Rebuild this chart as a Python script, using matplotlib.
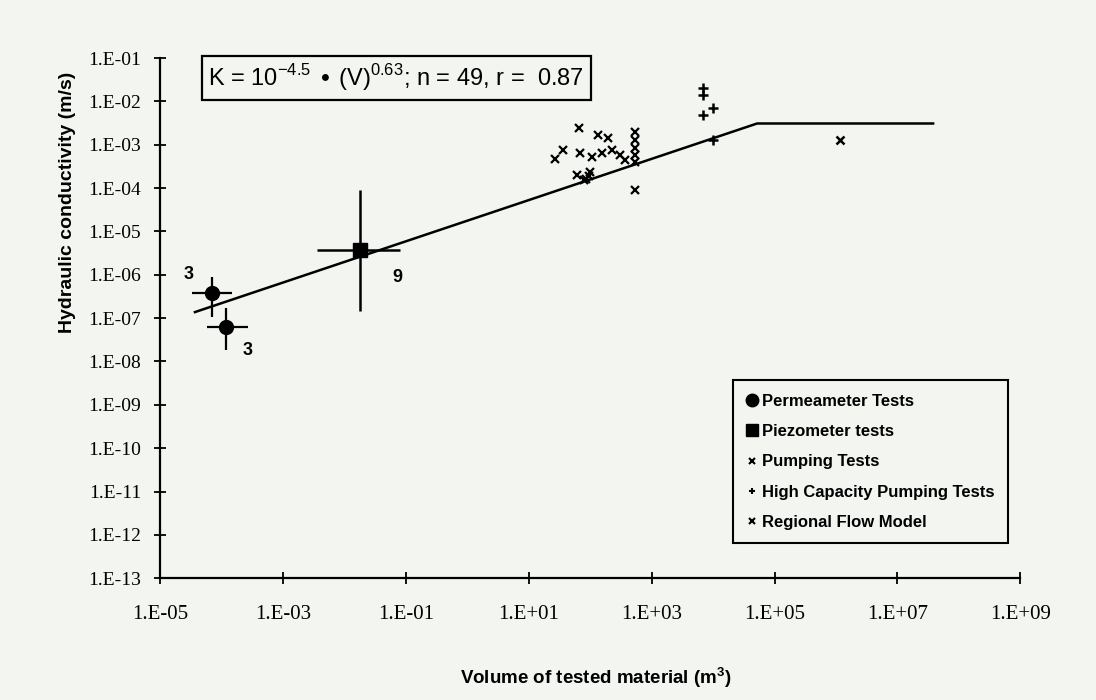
import matplotlib
matplotlib.use('Agg')
import matplotlib.pyplot as plt
from matplotlib.lines import Line2D
from matplotlib.ticker import FixedLocator, FuncFormatter, NullLocator
import numpy as np

# Permeameter tests (two groups of 3 samples): mean K and range
perm_v = [7.0e-5, 1.2e-4]
perm_k = [3.8e-7, 6.2e-8]
perm_v_lo = [3.3e-5, 5.9e-5]
perm_v_hi = [1.5e-4, 2.7e-4]
perm_k_lo = [1.05e-7, 1.8e-8]
perm_k_hi = [8.9e-7, 1.7e-7]
perm_n = ['3', '3']

# Piezometer tests (9 tests)
piezo_v = [1.8e-2]
piezo_k = [3.7e-6]
piezo_v_lo = [3.6e-3]
piezo_v_hi = [8.1e-2]
piezo_k_lo = [1.5e-7]
piezo_k_hi = [8.9e-5]
piezo_n = ['9']

# Pumping tests
pump_v = [66, 135, 195, 36, 27, 69, 107, 158, 229, 309, 372, 62, 100, 78, 85, 95,
          537, 537, 537, 537, 537, 537]
pump_k = [2.4e-3, 1.66e-3, 1.41e-3, 7.6e-4, 4.7e-4, 6.5e-4, 5.2e-4, 6.5e-4, 7.6e-4,
          5.8e-4, 4.5e-4, 2.0e-4, 2.3e-4, 1.5e-4, 1.6e-4, 1.9e-4,
          1.95e-3, 1.29e-3, 8.3e-4, 5.8e-4, 4.0e-4, 8.9e-5]

# High capacity pumping tests
hcap_v = [6900, 6900, 6900, 9800, 9800]
hcap_k = [2.0e-2, 1.4e-2, 4.8e-3, 7.1e-3, 1.29e-3]

# Regional flow model
reg_v = [1.17e6]
reg_k = [1.29e-3]

# Scale-effect relation (rising limb then plateau)
fit_v = [3.7e-5, 5.2e4, 3.8e7]
fit_k = [1.38e-7, 3.1e-3, 3.1e-3]

xticks = [1e-5, 1e-3, 1e-1, 1e1, 1e3, 1e5, 1e7, 1e9]
yticks = [10.0 ** e for e in range(-13, 0)]

bg = '#f3f5f1'
serif = 'Liberation Serif'
sans = 'Liberation Sans'

fig = plt.figure(figsize=(10.96, 7.0), dpi=100, facecolor=bg)
ax = fig.add_axes([0.146, 0.174, 0.785, 0.743], facecolor=bg)
ax.set_xscale('log')
ax.set_yscale('log')
ax.set_xlim(1e-5, 1e9)
ax.set_ylim(1e-13, 1e-1)

# fitted line
ax.plot(fit_v, fit_k, color='black', lw=1.8, zorder=2)

# permeameter tests with ranges
ax.errorbar(perm_v, perm_k,
            xerr=[np.subtract(perm_v, perm_v_lo), np.subtract(perm_v_hi, perm_v)],
            yerr=[np.subtract(perm_k, perm_k_lo), np.subtract(perm_k_hi, perm_k)],
            fmt='o', color='black', ms=10, elinewidth=1.6, capsize=0, zorder=3)

# piezometer tests with ranges
ax.errorbar(piezo_v, piezo_k,
            xerr=[np.subtract(piezo_v, piezo_v_lo), np.subtract(piezo_v_hi, piezo_v)],
            yerr=[np.subtract(piezo_k, piezo_k_lo), np.subtract(piezo_k_hi, piezo_k)],
            fmt='s', color='black', ms=10, elinewidth=1.8, capsize=0, zorder=3)

ax.plot(pump_v, pump_k, 'x', color='black', ms=6, mew=1.6, zorder=3)
ax.plot(hcap_v, hcap_k, '+', color='black', ms=7, mew=1.8, zorder=3)
ax.plot(reg_v, reg_k, 'x', color='black', ms=6, mew=1.8, zorder=3)

# sample counts
ax.annotate(perm_n[0], (perm_v_lo[0], perm_k_hi[0]), xytext=(-2, -4), textcoords='offset points',
            ha='center', va='bottom', fontsize=13, fontweight='bold', family=sans)
ax.annotate(perm_n[1], (perm_v_hi[1], perm_k_lo[1]), xytext=(0, 0), textcoords='offset points',
            ha='center', va='center', fontsize=13, fontweight='bold', family=sans)
ax.annotate(piezo_n[0], (piezo_v_hi[0], piezo_k[0]), xytext=(-2, -20), textcoords='offset points',
            ha='center', va='center', fontsize=13, fontweight='bold', family=sans)

# relation text box
ax.text(0.056, 0.962,
        r'K = 10$^{\mathregular{-4.5}}$ $\bullet$ (V)$^{\mathregular{0.63}}$; n = 49, r =  0.87',
        transform=ax.transAxes, ha='left', va='center', fontsize=17, family=sans,
        bbox=dict(boxstyle='square,pad=0.28', fc='none', ec='black', lw=1.6))

# axes styling
for s in ['top', 'right']:
    ax.spines[s].set_visible(False)
for s in ['left', 'bottom']:
    ax.spines[s].set_linewidth(1.6)

ax.xaxis.set_major_locator(FixedLocator(xticks))
ax.yaxis.set_major_locator(FixedLocator(yticks))
ax.xaxis.set_minor_locator(NullLocator())
ax.yaxis.set_minor_locator(NullLocator())


def sci_label(v, pos):
    e = int(round(np.log10(v)))
    return '1.E%s%02d' % ('+' if e >= 0 else '-', abs(e))


ax.xaxis.set_major_formatter(FuncFormatter(sci_label))
ax.yaxis.set_major_formatter(FuncFormatter(sci_label))
ax.tick_params(axis='both', direction='inout', length=9, width=1.3, color='black')
ax.tick_params(axis='x', pad=15)
ax.tick_params(axis='y', pad=9)
for lab in ax.get_xticklabels():
    lab.set_family(serif)
    lab.set_fontsize(15)
for lab in ax.get_yticklabels():
    lab.set_family(serif)
    lab.set_fontsize(14)

ax.set_xlabel('Volume of tested material (m$^{\\mathregular{3}}$)', fontsize=13.5,
              fontweight='bold', family=sans)
ax.set_ylabel('Hydraulic conductivity (m/s)', fontsize=14, fontweight='bold', family=sans)
ax.xaxis.set_label_coords(0.506, -0.168)
ax.yaxis.set_label_coords(-0.098, 0.723)

handles = [
    Line2D([], [], ls='none', marker='o', color='black', ms=9),
    Line2D([], [], ls='none', marker='s', color='black', ms=8),
    Line2D([], [], ls='none', marker='x', color='black', ms=5, mew=1.5),
    Line2D([], [], ls='none', marker='+', color='black', ms=5, mew=1.5),
    Line2D([], [], ls='none', marker='x', color='black', ms=5, mew=1.5),
]
labels = ['Permeameter Tests', 'Piezometer tests', 'Pumping Tests',
          'High Capacity Pumping Tests', 'Regional Flow Model']
leg = ax.legend(handles, labels, loc='lower left', bbox_to_anchor=(0.666, 0.067),
                prop={'family': sans, 'weight': 'bold', 'size': 12},
                frameon=True, fancybox=False, edgecolor='black', facecolor='none',
                framealpha=1, handlelength=0.7, handletextpad=0.25, labelspacing=0.92,
                borderpad=0.8, borderaxespad=0)
leg.get_frame().set_linewidth(1.5)

fig.savefig('out.png', dpi=100, facecolor=bg)
